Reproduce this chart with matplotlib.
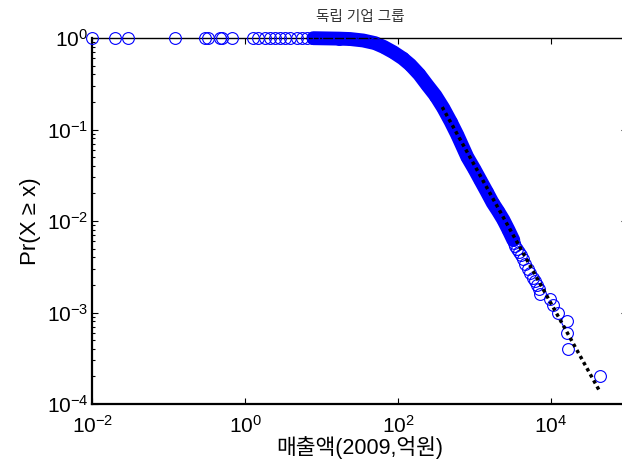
#!/usr/bin/env python3

# CCDF of 2009 sales for independent business groups, log-log with power-law fit

import matplotlib
matplotlib.use('Agg')
import matplotlib.pyplot as plt
import matplotlib.ticker as ticker

matplotlib.rcParams['font.family'] = ['Liberation Sans', 'Noto Sans CJK KR', 'DejaVu Sans']
matplotlib.rcParams['mathtext.fontset'] = 'custom'
matplotlib.rcParams['mathtext.rm'] = 'Liberation Sans'
matplotlib.rcParams['axes.unicode_minus'] = False

# smallest values, all sitting at Pr ~ 1
top_x = [0.010, 0.0197, 0.029, 0.12, 0.298, 0.327, 0.468, 0.50, 0.67,
         1.27, 1.48, 1.82, 2.12, 2.47, 2.87, 3.33, 3.87, 4.79, 5.6, 6.5, 7.8]
top_p = [1.0, 0.9998, 0.9996, 0.9994, 0.9992, 0.999, 0.9988, 0.9986, 0.9984,
         0.9982, 0.998, 0.9978, 0.9976, 0.9974, 0.9972, 0.997, 0.9968, 0.9966,
         0.9964, 0.9962, 0.996]

# dense part of the distribution (thousands of overlapping circles)
band_x = [7.8, 12, 17, 23.7, 35, 50, 65, 87, 115, 145, 190, 242, 310, 392,
          490, 600, 810, 1000, 1200, 1450, 1740, 2050, 2400, 2800, 3240]
band_p = [0.996, 0.99, 0.985, 0.975, 0.94, 0.88, 0.80, 0.70, 0.60, 0.51, 0.40,
          0.306, 0.235, 0.172, 0.122, 0.087, 0.050, 0.037, 0.028, 0.021,
          0.0158, 0.0128, 0.0103, 0.0080, 0.0062]

# tail, where individual circles can be told apart
tail_x = [3340, 3440, 3660, 3890, 4130, 4390, 4660, 5100, 5420, 5930, 6300,
          6690, 7110, 7330, 9900, 10800, 12300, 16300, 16600, 16900, 44700]
tail_p = [0.0058, 0.0054, 0.0050, 0.0046, 0.0042, 0.0038, 0.0034, 0.0030,
          0.0027, 0.0024, 0.0022, 0.0020, 0.0018, 0.0016, 0.0014, 0.0012,
          0.0010, 0.0008, 0.0006, 0.0004, 0.0002]

# power-law fit, end points
fit_x = [380, 43600]
fit_p = [0.176, 1.39e-4]

fig = plt.figure(figsize=(6.22, 4.62), dpi=100)
ax = fig.add_axes([0.1487, 0.1255, 0.8594, 0.7922])

marker = dict(marker='o', ms=8.5, mfc='none', mec='blue', mew=0.8,
              linestyle='none', clip_on=False)

ax.plot(band_x, band_p, color='blue', lw=10, solid_capstyle='round',
        solid_joinstyle='round', clip_on=False, zorder=2)
ax.plot(top_x, top_p, zorder=3, **marker)
ax.plot(band_x, band_p, zorder=3, **marker)
ax.plot(tail_x, tail_p, zorder=3, **marker)
ax.plot(fit_x, fit_p, color='black', linestyle=(0, (1, 1)), lw=2.5,
        zorder=4)

ax.set_xscale('log')
ax.set_yscale('log')
ax.set_xlim(1e-2, 1e5)
ax.set_ylim(1e-4, 1e0)

ax.xaxis.set_major_locator(ticker.FixedLocator([1e-2, 1e0, 1e2, 1e4]))
ax.xaxis.set_minor_locator(ticker.NullLocator())
ax.yaxis.set_major_locator(ticker.LogLocator(base=10, numticks=10))
ax.yaxis.set_minor_locator(ticker.LogLocator(base=10, subs=range(2, 10),
                                             numticks=10))

ax.tick_params(which='both', direction='in', top=True, right=True,
               labelsize=15, width=0.8)
ax.tick_params(which='major', length=4)
ax.tick_params(which='minor', length=2.5)
ax.tick_params(axis='x', pad=8)
ax.tick_params(axis='y', pad=3)

ax.spines['left'].set_linewidth(1.6)
ax.spines['bottom'].set_linewidth(1.6)
ax.spines['top'].set_linewidth(1.0)
ax.spines['right'].set_linewidth(1.0)

ax.set_xlabel('매출액(2009,억원)', fontsize=15.5)
ax.xaxis.set_label_coords(0.5, -0.088)
ax.set_ylabel('Pr(X ≥ x)', fontsize=16, labelpad=4)
ax.set_title('독립 기업 그룹', fontsize=10.5, color='#333333', pad=12)

fig.savefig('out.png', dpi=100)
